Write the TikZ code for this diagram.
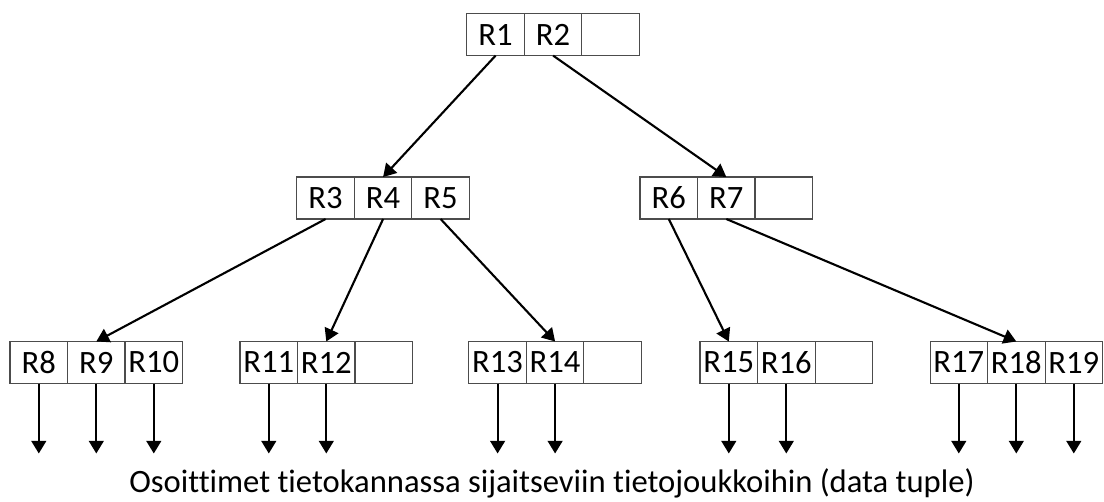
\documentclass[tikz,border=0pt]{standalone}
\usepackage{fontspec}
\setmainfont{Carlito}[Ligatures=NoCommon]
\usetikzlibrary{positioning,arrows.meta}
\definecolor{boxline}{rgb}{0.3,0.3,0.3}

\begin{document}
\begin{tikzpicture}[
  cell/.style = {
    draw = boxline,
    line width = 0.8pt,
    rectangle,
    fill = white,
    outer sep = 0pt,
    inner sep = 0pt,
    minimum width = 1.4375cm,
    minimum height = 1.05cm,
    font = \fontsize{23.2pt}{27pt}\selectfont,
  },
  ptr/.style = {
    draw,
    line width = 1.5pt,
    ->,
  },
  >={Triangle[width=10.5pt,length=9pt]},
]
  \useasboundingbox (0,0) rectangle (27.6,12.525);

  %
  \node[cell] (r1) at (12.39,11.66) {R1};
  \node[cell] (r2) [right=0cm of r1] {R2};
  \node[cell] (e1) [right=0cm of r2] {};

  %
  \node[cell] (r3) at (8.14,7.575) {R3};
  \node[cell] (r4) [right=0cm of r3] {R4};
  \node[cell] (r5) [right=0cm of r4] {R5};

  \node[cell] (r6) at (16.72,7.575) {R6};
  \node[cell] (r7) [right=0cm of r6] {R7};
  \node[cell] (e2) [right=0cm of r7] {};

  %
  \node[cell] (r8) at (0.97,3.4625) {R8};
  \node[cell] (r9) [right=0cm of r8] {R9};
  \node[cell] (r10) [right=0cm of r9] {R10};

  \node[cell] (r11) at (6.72,3.4625) {R11};
  \node[cell] (r12) [right=0cm of r11] {R12};
  \node[cell] (e3) [right=0cm of r12] {};

  \node[cell] (r13) at (12.44,3.4625) {R13};
  \node[cell] (r14) [right=0cm of r13] {R14};
  \node[cell] (e4) [right=0cm of r14] {};

  \node[cell] (r15) at (18.22,3.4625) {R15};
  \node[cell] (r16) [right=0cm of r15] {R16};
  \node[cell] (e5) [right=0cm of r16] {};

  \node[cell] (r17) at (23.97,3.4625) {R17};
  \node[cell] (r18) [right=0cm of r17] {R18};
  \node[cell] (r19) [right=0cm of r18] {R19};

  %
  \coordinate[below=1.75cm of r8] (d8);
  \coordinate[below=1.75cm of r9] (d9);
  \coordinate[below=1.75cm of r10] (d10);
  \coordinate[below=1.75cm of r11] (d11);
  \coordinate[below=1.75cm of r12] (d12);
  \coordinate[below=1.75cm of r13] (d13);
  \coordinate[below=1.75cm of r14] (d14);
  \coordinate[below=1.75cm of r15] (d15);
  \coordinate[below=1.75cm of r16] (d16);
  \coordinate[below=1.75cm of r17] (d17);
  \coordinate[below=1.75cm of r18] (d18);
  \coordinate[below=1.75cm of r19] (d19);

  \node[font=\fontsize{23.2pt}{27pt}\selectfont] (note) at (13.8,0.45)
    {Osoittimet tietokannassa sijaitseviin tietojoukkoihin (data tuple)};

  %
  \draw[ptr] (r1.south) -- (r4.north);
  \draw[ptr] (r2.south) -- (r7.north);

  \draw[ptr] (r3.south) -- (r9.north);
  \draw[ptr] (r4.south) -- (r12.north);
  \draw[ptr] (r5.south) -- (r14.north);
  \draw[ptr] (r6.south) -- (r15.north);
  \draw[ptr] (r7.south) -- (r18.north);

  \draw[ptr] (r8.south) -- (d8);
  \draw[ptr] (r9.south) -- (d9);
  \draw[ptr] (r10.south) -- (d10);
  \draw[ptr] (r11.south) -- (d11);
  \draw[ptr] (r12.south) -- (d12);
  \draw[ptr] (r13.south) -- (d13);
  \draw[ptr] (r14.south) -- (d14);
  \draw[ptr] (r15.south) -- (d15);
  \draw[ptr] (r16.south) -- (d16);
  \draw[ptr] (r17.south) -- (d17);
  \draw[ptr] (r18.south) -- (d18);
  \draw[ptr] (r19.south) -- (d19);

\end{tikzpicture}
\end{document}
